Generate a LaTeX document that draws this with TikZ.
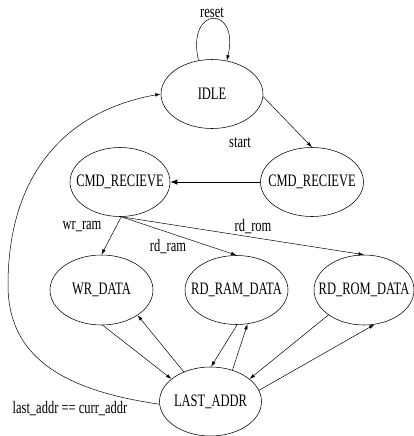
\documentclass[tikz,border=0pt]{standalone}
\usepackage{graphicx}
\usepackage{fontspec}
\setmainfont{Liberation Serif}
\usetikzlibrary{arrows.meta,shapes.geometric}
\newcommand\tallt[1]{\scalebox{1}[1.4]{#1}}
\newcommand\mkz[1]{\makebox[0pt]{\tallt{#1}}}
\begin{document}
\begin{tikzpicture}[x=1pt,y=-1pt,
  state/.style={draw,ellipse,line width=0.55pt,minimum width=102pt,minimum height=69pt,inner sep=0pt,font=\fontsize{12.5}{14}\selectfont},
  lbl/.style={font=\fontsize{12.5}{14}\selectfont,inner sep=0pt},
  edge/.style={-{Latex[length=5.5pt,width=3.5pt]},line width=0.5pt},
  bigedge/.style={-{Latex[length=7pt,width=5.5pt]},line width=1pt}]
\useasboundingbox (0,0) rectangle (414,436);
\node[state] (idle) at (212,94) {\mkz{IDLE}};
\node[state,minimum width=103pt] (cmdr) at (312,182) {\mkz{CMD\_RECIEVE}};
\node[state,minimum width=100pt] (cmdl) at (120,182) {\mkz{CMD\_RECIEVE}};
\node[state,minimum width=103pt,minimum height=70pt] (wr) at (101.5,290) {\mkz{WR\_DATA}};
\node[state,minimum width=103pt] (ram) at (236.5,290) {\mkz{RD\_RAM\_DATA}};
\node[state,minimum width=100pt,minimum height=70pt] (rom) at (364,290) {\mkz{RD\_ROM\_DATA}};
\node[state] (la) at (210.5,401.5) {\mkz{LAST\_ADDR}};
% reset loop
\draw[edge] (idle.112) .. controls (186,5) and (240,5) .. (idle.66);
\node[lbl] (lreset) at (212,13) {\tallt{reset}};
% start
\draw[edge] (idle.-3) -- (cmdr.north);
\node[lbl] (lstart) at (240,143) {\tallt{start}};
\draw[bigedge] (cmdr.west) -- (cmdl.east);
% branches
\coordinate (cs) at (cmdl.-88);
\draw[edge] (cs) -- (wr.north);
\draw[edge] (cs) -- (ram.north);
\draw[edge] (cs) -- (rom.north);
\node[lbl] (lwr) at (82,227) {\tallt{wr\_ram}};
\node[lbl] (lrdram) at (168,247) {\tallt{rd\_ram}};
\node[lbl] (lrdrom) at (253,227) {\tallt{rd\_rom}};
% bottom
\draw[edge] (wr.-88) -- (la.150);
\draw[edge] (la.132) -- (wr.-35);
\draw[edge] (ram.-89) -- (la.89);
\draw[edge] (la.55) -- (ram.-72);
\draw[edge] (rom.-145) -- (la.30);
\draw[edge] (la.13) -- (rom.-73);
% return
\draw[edge] (la.183) .. controls (60,390) and (8,355) .. (8,285) .. controls (8,170) and (70,110) .. (idle.west);
\node[lbl] (lret) at (70,409) {\tallt{last\_addr == curr\_addr}};
\end{tikzpicture}
\end{document}
